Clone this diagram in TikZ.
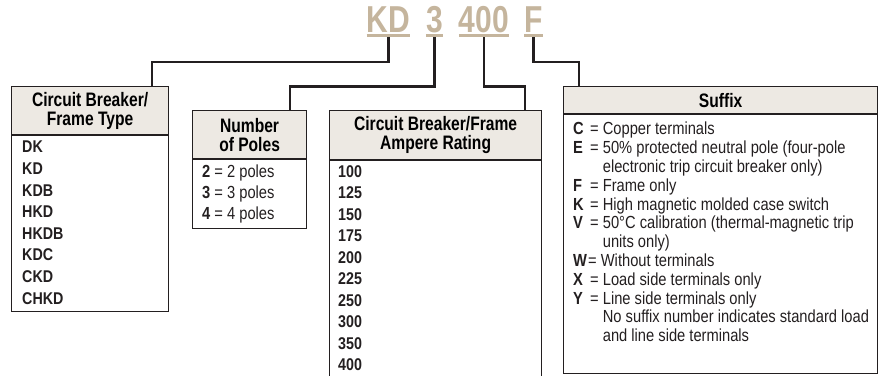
\documentclass[tikz,border=0pt]{standalone}
\usepackage{fontspec}
\setmainfont{Liberation Sans}[FakeStretch=0.8]
\newfontfamily\listfont{Liberation Sans}[FakeStretch=0.84]
\definecolor{codetan}{HTML}{C5B59D}
\definecolor{headfill}{HTML}{EDE9E3}
\definecolor{ink}{HTML}{231F20}
\newcommand\sfx[1]{\makebox[17pt][l]{\textbf{#1}}= }
\newcommand\sfxgap{\hspace*{17pt}\hphantom{= }}

\begin{document}
\begin{tikzpicture}[x=1pt,y=-1pt,
  code/.style={font=\bfseries\fontsize{37.5}{37.5}\selectfont, text=codetan, inner sep=0pt, anchor=base},
  uline/.style={codetan, line width=2.6pt},
  wire/.style={ink, line width=2.2pt},
  headbox/.style={draw=ink, fill=headfill, line width=1.2pt, anchor=north west, align=center, inner sep=0pt, font=\bfseries\fontsize{19.5}{19}\selectfont},
  bodybox/.style={draw=ink, line width=1.2pt, anchor=north west, inner sep=0pt},
  entries/.style={anchor=north west, align=left, inner sep=0pt, text=ink}]

  \clip (0,0) rectangle (878,375);

  % part number
  \node[code] (kd) at (388.5,32.5) {KD};
  \node[code] (poles) at (434.5,32.5) {3};
  \node[code] (amps) at (484,32.5) {400};
  \node[code] (sfx) at (533.5,32.5) {F};

  % frame type
  \node[headbox, minimum width=157pt, minimum height=48pt] (framehead) at (11,86) {Circuit Breaker/\\Frame Type};
  \node[bodybox, minimum width=157pt, minimum height=176pt] (framebody) at (framehead.south west) {};
  \node[entries, font=\listfont\bfseries\fontsize{17}{21.6}\selectfont] (framelist) at (22,141)
    {DK\\KD\\KDB\\HKD\\HKDB\\KDC\\CKD\\CHKD};

  % number of poles
  \node[headbox, minimum width=114pt, minimum height=48pt] (polehead) at (192,110) {Number\\of Poles};
  \node[bodybox, minimum width=114pt, minimum height=69pt] (polebody) at (polehead.south west) {};
  \node[entries, font=\listfont\fontsize{17.5}{21}\selectfont] (polelist) at (202,165)
    {\textbf{2} = 2 poles\\\textbf{3} = 3 poles\\\textbf{4} = 4 poles};

  % ampere rating
  \node[headbox, minimum width=212pt, minimum height=49pt] (amphead) at (329,110) {Circuit Breaker/Frame\\Ampere Rating};
  \node[bodybox, minimum width=212pt, minimum height=240pt] (ampbody) at (amphead.south west) {};
  \node[entries, font=\listfont\bfseries\fontsize{17}{21.5}\selectfont] (amplist) at (338,165)
    {100\\125\\150\\175\\200\\225\\250\\300\\350\\400};

  % suffix
  \node[headbox, minimum width=314pt, minimum height=27pt] (sfxhead) at (563,86) {Suffix};
  \node[bodybox, minimum width=314pt, minimum height=259pt] (sfxbody) at (sfxhead.south west) {};
  \node[entries, font=\listfont\fontsize{17.5}{18.8}\selectfont] (sfxlist) at (573,122)
    {\sfx{C}Copper terminals\\
     \sfx{E}50\% protected neutral pole (four-pole\\
     \sfxgap electronic trip circuit breaker only)\\
     \sfx{F}Frame only\\
     \sfx{K}High magnetic molded case switch\\
     \sfx{V}50°C calibration (thermal-magnetic trip\\
     \sfxgap units only)\\
     \makebox[15pt][l]{\textbf{W}}= Without terminals\\
     \sfx{X}Load side terminals only\\
     \sfx{Y}Line side terminals only\\
     \sfxgap No suffix number indicates standard load\\
     \sfxgap and line side terminals};

  % connectors
  \coordinate (frametap) at ([xshift=-17pt]framehead.north east);
  \coordinate (poletap) at ([xshift=-17pt]polehead.north east);
  \coordinate (amptap) at ([xshift=-17pt]amphead.north east);
  \coordinate (sfxtap) at ([xshift=16pt]sfxhead.north west);
  \draw[wire] ([yshift=-3pt]kd.base) -- (kd.base |- 0,62) -| (frametap);
  \draw[wire] ([yshift=-3pt]poles.base) -- (poles.base |- 0,86.5) -| (poletap);
  \draw[wire] ([yshift=-3pt]amps.base) -- (amps.base |- 0,86.5) -| (amptap);
  \draw[wire] ([yshift=-3pt]sfx.base) -- (sfx.base |- 0,62) -| (sfxtap);
  \foreach \n in {kd,poles,amps,sfx}
    \draw[uline] ([yshift=-3pt]\n.base west) -- ([yshift=-3pt]\n.base east);
\end{tikzpicture}
\end{document}
